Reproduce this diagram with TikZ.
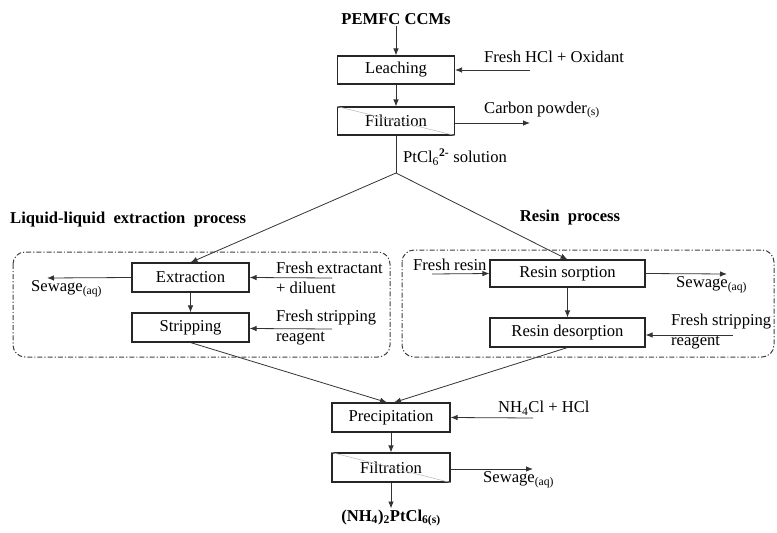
\documentclass[tikz,border=0pt]{standalone}
\usepackage{fontspec}
\setmainfont{Liberation Serif}
\usetikzlibrary{arrows.meta}
\begin{document}
\begin{tikzpicture}[x=1pt,y=-1pt,
  font=\fontsize{16.6}{20}\selectfont,
  every node/.style={inner sep=1pt},
  proc/.style={draw=black!85,line width=1.1pt,minimum width=117pt,minimum height=28pt,inner sep=0pt},
  lbl/.style={anchor=west,align=left,inner sep=0pt},
  flow/.style={draw=black!80,line width=0.8pt,-{Latex[length=7pt,width=5.5pt]}},
  group/.style={draw=black!75,line width=1pt,dash pattern=on 5pt off 2pt on 1.2pt off 2pt,rounded corners=12pt},
  filt/.style={draw=black!25,line width=0.6pt}]
\useasboundingbox (0,0) rectangle (777,533);

% top chain
\node[font=\fontsize{16.6}{20}\selectfont\bfseries] (pemfc) at (396,19) {PEMFC CCMs};
\node[proc] (leach) at (396,70) {Leaching};
\node[proc] (filtA) at (396,121) {Filtration};
\draw[filt] (filtA.north west) -- (filtA.south east);
\node[lbl] (hcl) at (484,57) {Fresh HCl + Oxidant};
\node[lbl] (carbon) at (484,110) {Carbon powder\textsubscript{(s)}};
\node[lbl] (ptcl) at (403,157) {PtCl\textsubscript{6}\textsuperscript{\textbf{2-}} solution};
\coordinate (hclin) at (530,70);
\coordinate (carbout) at (530,123);
\coordinate (split) at (396,173);

\draw[flow] (pemfc.south) -- (leach.north);
\draw[flow] (hclin) -- (leach.east);
\draw[flow] (leach.south) -- (filtA.north);
\draw[flow] ([yshift=-2pt]filtA.east) -- (carbout);
\draw[draw=black!80,line width=0.8pt] (filtA.south) -- (split);

% section titles
\node[lbl,font=\fontsize{16.6}{20}\selectfont\bfseries] (lletitle) at (10,220) {Liquid-liquid\ \ extraction\ \ process};
\node[font=\fontsize{16.6}{20}\selectfont\bfseries] (restitle) at (570,218) {Resin\ \ process};

% groups
\draw[group] (13,252) rectangle (390,357);
\draw[group] (402,250) rectangle (774,357);

% left process
\node[proc,minimum height=29pt] (ext) at (190.5,277.5) {Extraction};
\node[proc,minimum height=29pt] (strip) at (190.5,327.5) {Stripping};
\node[lbl] (sewL) at (31,289) {Sewage\textsubscript{(aq)}};
\node[lbl] (fext) at (276,278) {Fresh extractant\\+ diluent};
\node[lbl] (fstrL) at (276,328) {Fresh stripping\\reagent};
\coordinate (sewLout) at (47,278);
\coordinate (fextin) at (332,278);
\coordinate (fstrLin) at (332,329);

\draw[flow] (split) -- (ext.north);
\draw[flow] (ext.west) -- (sewLout);
\draw[flow] (fextin) -- (ext.east);
\draw[flow] (ext.south) -- (strip.north);
\draw[flow] (fstrLin) -- ([yshift=-1pt]strip.east);

% right process
\node[proc,minimum width=155pt,minimum height=27pt] (sorp) at (567.5,273.5) {Resin sorption};
\node[proc,minimum width=155pt,minimum height=29pt] (desorp) at (567.5,332.5) {Resin desorption};
\node[lbl] (fresin) at (413,265) {Fresh resin};
\node[lbl] (sewR) at (676,285) {Sewage\textsubscript{(aq)}};
\node[lbl] (fstrR) at (671,332) {Fresh stripping\\reagent};
\coordinate (fresinin) at (432,274);
\coordinate (sewRout) at (727,274);
\coordinate (fstrRin) at (733,335);

\draw[flow] (split) -- (sorp.north);
\draw[flow] (fresinin) -- (sorp.west);
\draw[flow] (sorp.east) -- (sewRout);
\draw[flow] (sorp.south) -- (desorp.north);
\draw[flow] (fstrRin) -- ([yshift=-2.5pt]desorp.east);

% bottom chain
\node[proc,minimum width=118pt,minimum height=29pt] (prec) at (391,417.5) {Precipitation};
\node[proc,minimum width=118pt,minimum height=29pt] (filtB) at (391,467.5) {Filtration};
\draw[filt] (filtB.north west) -- (filtB.south east);
\node[lbl] (nh4) at (498,408) {NH\textsubscript{4}Cl + HCl};
\node[lbl] (sewB) at (483,480) {Sewage\textsubscript{(aq)}};
\node[font=\fontsize{16.6}{20}\selectfont\bfseries] (prod) at (391,518) {(NH\textsubscript{4})\textsubscript{2}PtCl\textsubscript{6(s)}};
\coordinate (nh4in) at (533,418);
\coordinate (sewBout) at (533,469);

\draw[flow] (strip.south) -- ([xshift=-4pt]prec.north);
\draw[flow] (desorp.south) -- ([xshift=3pt]prec.north);
\draw[flow] (nh4in) -- (prec.east);
\draw[flow] (prec.south) -- (filtB.north);
\draw[flow] ([yshift=-1.5pt]filtB.east) -- (sewBout);
\draw[flow] (filtB.south) -- (prod.north);
\end{tikzpicture}
\end{document}
